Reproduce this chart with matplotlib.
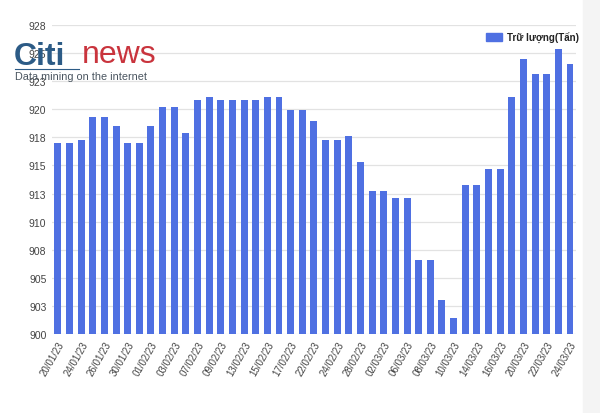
import matplotlib.pyplot as plt
from matplotlib.patches import Rectangle

plt.rcParams['font.family'] = ['Liberation Sans', 'DejaVu Sans']

# ngay giao dich va tru luong (tan)
dates = ['20/01/23', '23/01/23', '24/01/23', '25/01/23', '26/01/23', '27/01/23',
         '30/01/23', '31/01/23', '01/02/23', '02/02/23', '03/02/23', '06/02/23',
         '07/02/23', '08/02/23', '09/02/23', '10/02/23', '13/02/23', '14/02/23',
         '15/02/23', '16/02/23', '17/02/23', '21/02/23', '22/02/23', '23/02/23',
         '24/02/23', '27/02/23', '28/02/23', '01/03/23', '02/03/23', '03/03/23',
         '06/03/23', '07/03/23', '08/03/23', '09/03/23', '10/03/23', '13/03/23',
         '14/03/23', '15/03/23', '16/03/23', '17/03/23', '20/03/23', '21/03/23',
         '22/03/23', '23/03/23', '24/03/23']
values = [917.0, 917.0, 917.3, 919.3, 919.3, 918.5, 917.0, 917.0, 918.5, 920.2,
          920.2, 917.9, 920.8, 921.1, 920.8, 920.8, 920.8, 920.8, 921.1, 921.1,
          919.9, 919.9, 919.0, 917.3, 917.3, 917.6, 915.3, 912.7, 912.7, 912.1,
          912.1, 906.6, 906.6, 903.0, 901.4, 913.3, 913.3, 914.7, 914.7, 921.1,
          924.5, 923.1, 923.1, 925.4, 924.0]
yticks = [900, 902.5, 905, 907.5, 910, 912.5, 915, 917.5, 920, 922.5, 925, 927.5]
ylabels = ['900', '903', '905', '908', '910', '913', '915', '918', '920', '923', '925', '928']

bar_color = '#4f70e2'

fig = plt.figure(figsize=(6, 4.14), dpi=100)
fig.patches.append(Rectangle((0.972, 0), 0.028, 1, transform=fig.transFigure,
                             color='#f4f4f4', zorder=0))
ax = fig.add_axes([0.0867, 0.191, 0.873, 0.746])

x = list(range(len(dates)))
ax.bar(x, [v - 900 for v in values], bottom=900, width=0.6, color=bar_color,
       zorder=3, label='Trữ lượng(Tấn)')

ax.set_xlim(-0.5, len(dates) - 0.5)
ax.set_ylim(900, 927.5)
ax.set_yticks(yticks)
ax.set_yticklabels(ylabels, fontsize=7.5, color='#444444')
ax.set_xticks(x[::2])
ax.set_xticklabels(dates[::2], rotation=60, ha='right', rotation_mode='anchor',
                   fontsize=7, color='#444444')
ax.tick_params(length=0, pad=4)
ax.grid(axis='y', color='#e2e2e2', linewidth=0.9, zorder=0)
for s in ax.spines.values():
    s.set_visible(False)

# legend
fig.patches.append(Rectangle((486 / 600, 1 - 42 / 414), 16 / 600, 8 / 414,
                             transform=fig.transFigure, color=bar_color))
fig.text(507 / 600, 1 - 38 / 414, 'Trữ lượng(Tấn)', fontsize=7, color='#222222',
         fontweight='bold', va='center', ha='left')

# logo watermark
fig.text(14 / 600, 1 - 57 / 414, 'Citi', fontsize=23, color='#2c5b86',
         fontweight='bold', va='center', ha='left')
fig.text(82 / 600, 1 - 55 / 414, 'news', fontsize=23, color='#c9343d',
         va='center', ha='left')
fig.lines.append(plt.Line2D([15 / 600, 79 / 600], [1 - 70 / 414, 1 - 70 / 414],
                            transform=fig.transFigure, color='#2c5b86', lw=0.8))
fig.text(15 / 600, 1 - 77 / 414, 'Data mining on the internet', fontsize=7.8,
         color='#4a5560', va='center', ha='left')

fig.savefig('out.png', dpi=100)
